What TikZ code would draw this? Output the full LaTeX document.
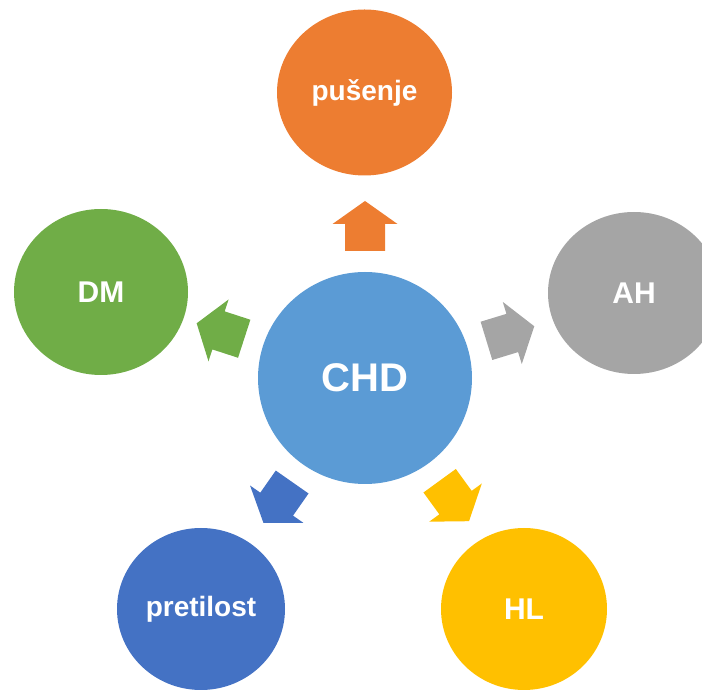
\documentclass[tikz,border=0pt]{standalone}
\usepackage{fontspec}
\setmainfont{Liberation Sans}
\usetikzlibrary{shapes.geometric}
\definecolor{cBlue}{HTML}{5B9BD5}
\definecolor{cOrange}{HTML}{ED7D31}
\definecolor{cGray}{HTML}{A5A5A5}
\definecolor{cGreen}{HTML}{70AD47}
\definecolor{cDark}{HTML}{4472C4}
\definecolor{cYellow}{HTML}{FFC000}
\tikzset{
  bubble/.style={ellipse, inner sep=0pt, text=white,
    font=\fontsize{28}{30}\selectfont\bfseries},
  capbubble/.style={bubble, font=\fontsize{30}{32}\selectfont\bfseries},
  blockarrow/.style={draw=none}
}
\newcommand{\outarrow}[2]{%
  \begin{scope}[shift={(chd.center)}, rotate=#1]
    \fill[#2] (127,20) -- (154,20) -- (154,32.5) -- (177,0) -- (154,-32.5) -- (154,-20) -- (127,-20) -- cycle;
  \end{scope}}
\begin{document}
\begin{tikzpicture}[x=1pt,y=1pt]
  \useasboundingbox (0,0) rectangle (702,691);
  \clip (0,0) rectangle (702,691);
  \node[bubble, fill=cBlue, minimum width=214pt, minimum height=212pt,
        font=\fontsize{40}{42}\selectfont\bfseries] (chd) at (365,313) {CHD};
  \node[bubble, fill=cOrange, minimum width=175pt, minimum height=166pt] (pus) at (364.5,598.5) {pušenje};
  \node[capbubble, fill=cGray, minimum width=172pt, minimum height=162pt] (ah) at (634,398) {AH};
  \node[capbubble, fill=cGreen, minimum width=174pt, minimum height=166pt] (dm) at (101,399) {DM};
  \node[bubble, fill=cDark, minimum width=168pt, minimum height=162pt] (pre) at (201,82) {pretilost};
  \node[capbubble, fill=cYellow, minimum width=166pt, minimum height=162pt] (hl) at (524,82) {HL};
  \outarrow{90}{cOrange}
  \outarrow{17}{cGray}
  \outarrow{162}{cGreen}
  \outarrow{235}{cDark}
  \outarrow{306}{cYellow}
\end{tikzpicture}
\end{document}
